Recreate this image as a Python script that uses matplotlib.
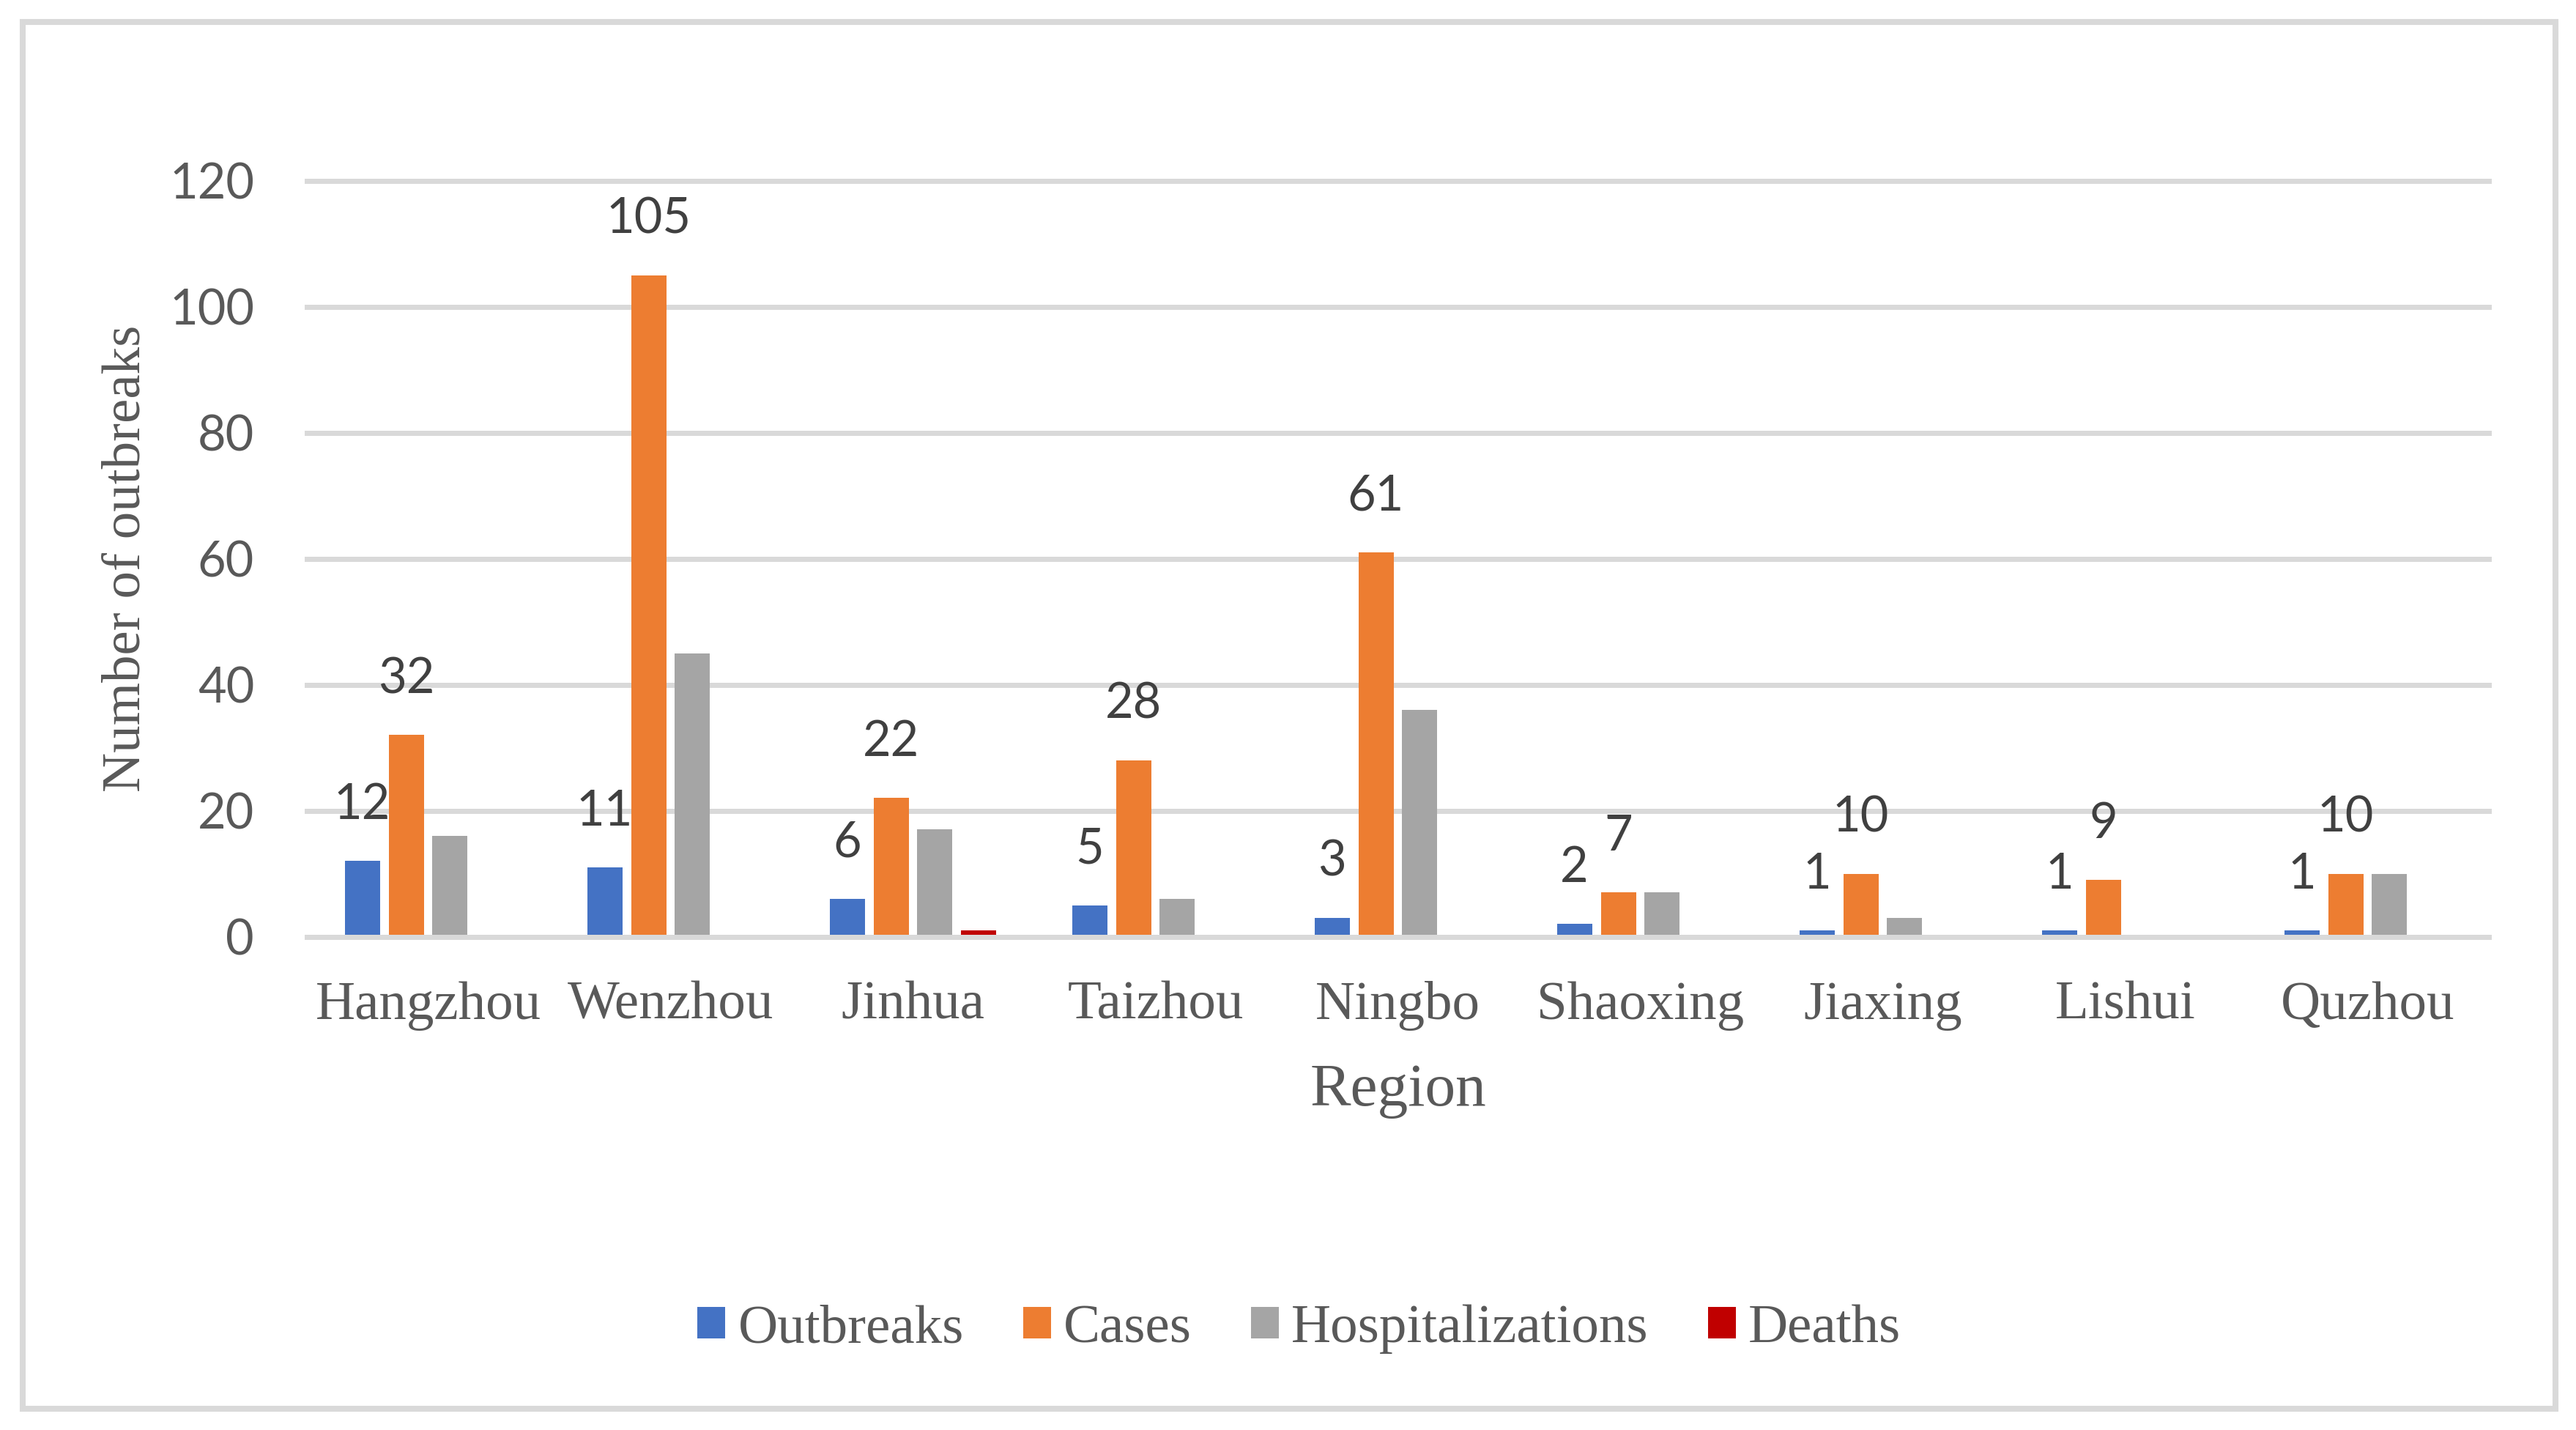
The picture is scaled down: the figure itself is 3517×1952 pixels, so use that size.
import matplotlib
matplotlib.use("Agg")
import matplotlib.pyplot as plt
from matplotlib.patches import Patch, Rectangle
import numpy as np

regions = ["Hangzhou", "Wenzhou", "Jinhua", "Taizhou", "Ningbo",
           "Shaoxing", "Jiaxing", "Lishui", "Quzhou"]
outbreaks = [12, 11, 6, 5, 3, 2, 1, 1, 1]
cases = [32, 105, 22, 28, 61, 7, 10, 9, 10]
hospitalizations = [16, 45, 17, 6, 36, 7, 3, 0, 10]
deaths = [0, 0, 1, 0, 0, 0, 0, 0, 0]
series_names = ["Outbreaks", "Cases", "Hospitalizations", "Deaths"]
y_ticks = [0, 20, 40, 60, 80, 100, 120]

colors = ["#4472C4", "#ED7D31", "#A5A5A5", "#C00000"]
serif = ["Liberation Serif", "DejaVu Serif"]
sans = ["Lato", "DejaVu Sans"]
txt_col = "#595959"
lab_col = "#404040"
grid_col = "#D9D9D9"

W, H = 3517, 1952
dpi = 200
fig = plt.figure(figsize=(W / dpi, H / dpi), dpi=dpi)
fig.patch.set_facecolor("white")

# outer border
fig.add_artist(Rectangle((31 / W, 1 - 1923 / H), (3489 - 31) / W, (1923 - 29.5) / H,
                         transform=fig.transFigure, fill=False,
                         edgecolor=grid_col, linewidth=2.9))

ax_left, ax_right = 419, 3398
ax = fig.add_axes([ax_left / W, 1 - 1278.5 / H, (ax_right - ax_left) / W, (1278.5 - 246.5) / H])
ax.set_xlim(-0.5, len(regions) - 0.5)
ax.set_ylim(0, 120)

x = np.arange(len(regions))
slot = 0.181
width = 0.145
all_series = [outbreaks, cases, hospitalizations, deaths]
labelled = [True, True, False, False]
for i, (vals, name, col) in enumerate(zip(all_series, series_names, colors)):
    xs = x + (i - 1.5) * slot
    ax.bar(xs, vals, width=width, color=col, zorder=2, label=name, linewidth=0)
    if labelled[i]:
        for xi, v in zip(xs, vals):
            ax.annotate(str(v), (xi, v), xytext=(0, 20.5), textcoords="offset points",
                        ha="center", va="baseline", fontsize=24, family=sans,
                        color=lab_col, zorder=5)

# grid
ax.set_yticks(y_ticks)
for yv in y_ticks:
    ax.axhline(yv, color=grid_col, linewidth=2.52, zorder=3 if yv == 0 else 1,
               clip_on=False)

for s in ax.spines.values():
    s.set_visible(False)

ax.set_xticks(x)
ax.set_xticklabels(regions, fontsize=27, family=serif, color=txt_col)
ax.tick_params(axis="x", length=0, pad=21.8)
ax.tick_params(axis="y", length=0, pad=25.9, labelsize=24, labelcolor=txt_col)
for lbl in ax.get_yticklabels():
    lbl.set_family(sans)

fig.text((ax_left + ax_right) / 2 / W, 0.227, "Region", ha="center", va="baseline",
         fontsize=30, family=serif, color=txt_col)
fig.text(0.049, (1 - (1278.5 + 246.5) / 2 / H), "Number of outbreaks", ha="center",
         va="center", rotation=90, fontsize=27, family=serif, color=txt_col)

handles = [Patch(facecolor=c, edgecolor="none") for c in colors]
leg = fig.legend(handles, series_names, loc="center", bbox_to_anchor=(0.5043, 0.0705),
                 ncol=4, frameon=False, prop={"family": serif, "size": 27},
                 handlelength=0.507, handleheight=0.507, handletextpad=0.227,
                 columnspacing=1.08, borderpad=0, borderaxespad=0)
for t in leg.get_texts():
    t.set_color(txt_col)

fig.savefig("out.png", dpi=dpi, facecolor="white")
